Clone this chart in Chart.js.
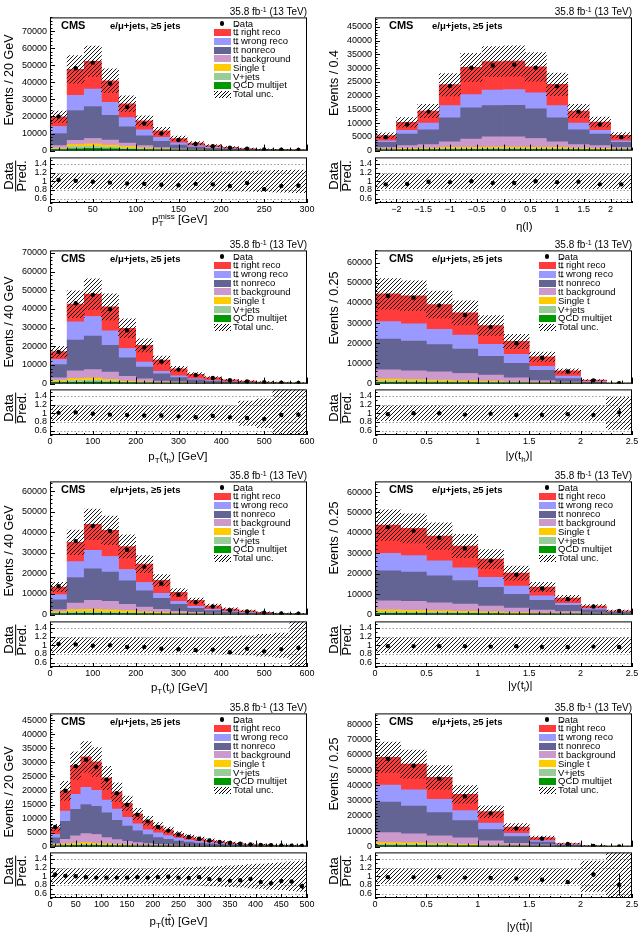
<!DOCTYPE html>
<html>
<head>
<meta charset="utf-8">
<title>CMS e/mu+jets control distributions</title>
<script src="https://cdn.jsdelivr.net/npm/chart.js@4.4.1/dist/chart.umd.min.js"></script>
<style>
  body { margin: 0; background: #fff; }
  #fig { position: relative; width: 642px; height: 936px; overflow: hidden;
         font-family: "Liberation Sans", Arial, Helvetica, sans-serif; color: #000; }
  #fig canvas { position: absolute; }
  .t { position: absolute; white-space: nowrap; line-height: 1; }
  .t sup { font-size: 70%; vertical-align: 0.5em; line-height: 0; }
  .t sub { font-size: 70%; vertical-align: -0.35em; line-height: 0; }
  .ob { text-decoration: overline; }
  .box { position: absolute; width: 16.5px; height: 7px; }
  .dot { position: absolute; width: 4.4px; height: 4.4px; border-radius: 50%; background: #000; }
  .unc { background: repeating-linear-gradient(135deg, #000 0 0.8px, transparent 0.8px 2.6px); }
  .frac { line-height: 0.95; }
  .frac div { text-align: center; }
  .frac div:first-child { border-bottom: 1px solid #000; }
</style>
</head>
<body>
<div id="fig"></div>
<script>
// ---- values (events per bin) ----

// missing pT, 20 GeV bins 0-300
const metXTicks = [0, 50, 100, 150, 200, 250, 300];
const metYTicks = [0, 10000, 20000, 30000, 40000, 50000, 60000, 70000];
const metQcd     = [500, 1100, 1300, 1100, 800, 500, 330, 210, 140, 90, 60, 40, 26, 18, 12];
const metVjets   = [500, 1200, 1200, 1000, 700, 500, 320, 210, 130, 90, 60, 40, 26, 18, 12];
const metSingleT = [500, 1200, 1400, 1200, 1000, 600, 350, 230, 150, 100, 60, 40, 28, 19, 13];
const metBkg     = [1400, 2500, 3200, 2900, 1900, 1300, 700, 450, 280, 180, 120, 80, 50, 35, 23];
const metNonreco = [7100, 17500, 18700, 14400, 9500, 5800, 3700, 2200, 1400, 890, 570, 370, 230, 150, 100];
const metWrong   = [4100, 8900, 10200, 7700, 5400, 3400, 2300, 1300, 800, 500, 330, 210, 130, 90, 60];
const metRight   = [5700, 15200, 16300, 12600, 8100, 5300, 3900, 2500, 1500, 1050, 700, 470, 310, 220, 160];
const metData    = [20000, 48200, 51500, 39300, 25600, 15800, 10000, 6200, 3900, 2600, 1650, 1150, 650, 480, 340];
const metRatio   = [1.03, 1.01, 0.99, 0.97, 0.95, 0.94, 0.92, 0.91, 0.94, 0.93, 0.89, 0.96, 0.82, 0.89, 0.9];
const metUnc     = [0.17, 0.17, 0.17, 0.17, 0.17, 0.17, 0.18, 0.19, 0.2, 0.21, 0.22, 0.23, 0.24, 0.25, 0.26];
const metErr     = [0.01, 0.005, 0.005, 0.005, 0.006, 0.008, 0.01, 0.012, 0.015, 0.018, 0.022, 0.027, 0.033, 0.04, 0.05];

// lepton eta, 0.4 bins -2.4..2.4
const etaXTicks = [-2, -1.5, -1, -0.5, 0, 0.5, 1, 1.5, 2];
const etaYTicks = [0, 5000, 10000, 15000, 20000, 25000, 30000, 35000, 40000, 45000];
const etaQcd     = [150, 220, 280, 320, 330, 350, 350, 330, 320, 280, 220, 150];
const etaVjets   = [150, 230, 270, 330, 320, 350, 350, 320, 330, 270, 230, 150];
const etaSingleT = [250, 350, 400, 500, 550, 600, 600, 550, 500, 400, 350, 250];
const etaBkg     = [650, 1000, 1250, 2050, 3000, 3700, 3700, 3200, 2050, 1250, 1000, 650];
const etaNonreco = [1800, 4200, 5400, 8700, 11400, 11400, 11500, 10800, 8700, 5400, 4200, 1800];
const etaWrong   = [600, 1400, 2400, 4500, 4800, 5600, 5700, 5800, 4500, 2400, 1400, 600];
const etaRight   = [1900, 2900, 4400, 7600, 9900, 10400, 10400, 9500, 7700, 4400, 3000, 2000];
const etaData    = [4900, 9500, 14200, 23500, 30200, 31000, 31300, 30200, 23400, 14200, 9500, 4900];
const etaRatio   = [0.93, 0.94, 0.99, 0.98, 1.0, 0.96, 0.96, 1.0, 0.98, 0.99, 0.93, 0.93];
const etaUnc     = [0.17, 0.17, 0.17, 0.17, 0.17, 0.17, 0.17, 0.17, 0.17, 0.17, 0.17, 0.17];
const etaErr     = [0.006, 0.006, 0.006, 0.006, 0.006, 0.006, 0.006, 0.006, 0.006, 0.006, 0.006, 0.006];

// pT(t_h), 40 GeV bins 0-600
const pt600XTicks = [0, 100, 200, 300, 400, 500, 600];
const thptYTicks = [0, 10000, 20000, 30000, 40000, 50000, 60000, 70000];
const thptQcd     = [540, 720, 800, 620, 400, 270, 160, 100, 60, 40, 25, 16, 10, 6, 4];
const thptVjets   = [560, 880, 900, 680, 400, 280, 170, 110, 70, 40, 25, 17, 10, 7, 5];
const thptSingleT = [700, 1100, 1300, 900, 500, 350, 220, 140, 80, 50, 30, 22, 13, 8, 5];
const thptBkg     = [1250, 4100, 4500, 3900, 2600, 1600, 850, 550, 330, 210, 130, 85, 52, 34, 21];
const thptNonreco = [7150, 16500, 18000, 14400, 9900, 6300, 3800, 2300, 1460, 910, 570, 360, 225, 140, 95];
const thptWrong   = [2700, 9700, 10400, 7700, 5000, 2700, 1400, 900, 500, 350, 220, 150, 90, 55, 35];
const thptRight   = [4200, 9500, 12000, 12900, 10800, 9000, 6000, 3800, 2500, 1600, 1000, 650, 400, 250, 165];
const thptData    = [17000, 43000, 47500, 39800, 28500, 19300, 11800, 7500, 4600, 3000, 1800, 1150, 700, 480, 320];
const thptRatio   = [1.01, 1.02, 0.99, 0.97, 0.96, 0.95, 0.95, 0.93, 0.91, 0.94, 0.91, 0.89, 0.87, 0.96, 0.97];
const thptUnc     = [0.17, 0.17, 0.17, 0.17, 0.17, 0.17, 0.17, 0.17, 0.17, 0.17, 0.17, 0.28, 0.33, 0.6, 0.6];
const thptErr     = [0.01, 0.005, 0.005, 0.005, 0.006, 0.007, 0.009, 0.011, 0.014, 0.018, 0.022, 0.028, 0.036, 0.045, 0.055];

// |y(t_h)|, 0.25 bins 0-2.5
const absyXTicks = [0, 0.5, 1, 1.5, 2, 2.5];
const thyYTicks = [0, 10000, 20000, 30000, 40000, 50000, 60000];
const thyQcd     = [500, 480, 440, 380, 300, 200, 120, 75, 25, 3];
const thyVjets   = [700, 620, 560, 470, 400, 250, 160, 95, 35, 4];
const thySingleT = [1000, 900, 800, 650, 500, 350, 220, 130, 40, 5];
const thyBkg     = [4600, 4300, 4000, 3500, 3000, 2000, 1000, 500, 150, 18];
const thyNonreco = [15300, 14800, 13500, 12100, 9300, 7300, 5100, 1700, 350, 40];
const thyWrong   = [8600, 8500, 7600, 7000, 5900, 4400, 2000, 1200, 400, 40];
const thyRight   = [13800, 13900, 12300, 11000, 9400, 6400, 4700, 2600, 700, 70];
const thyData    = [43500, 42600, 38700, 34000, 28000, 20000, 12800, 6000, 1600, 150];
const thyRatio   = [0.98, 1.0, 1.0, 0.97, 0.99, 0.96, 0.96, 0.98, 0.96, 1.02];
const thyUnc     = [0.17, 0.17, 0.17, 0.17, 0.17, 0.17, 0.17, 0.17, 0.17, 0.37];
const thyErr     = [0.005, 0.005, 0.005, 0.005, 0.005, 0.006, 0.008, 0.012, 0.025, 0.1];

// pT(t_l), 40 GeV bins 0-600
const tlptYTicks = [0, 10000, 20000, 30000, 40000, 50000, 60000];
const tlptQcd     = [320, 600, 650, 560, 450, 340, 250, 160, 100, 65, 40, 27, 16, 9, 6];
const tlptVjets   = [480, 700, 750, 640, 550, 410, 300, 200, 130, 85, 50, 33, 20, 11, 7];
const tlptSingleT = [650, 1100, 1200, 1100, 900, 650, 550, 340, 220, 140, 90, 60, 34, 20, 13];
const tlptBkg     = [950, 3200, 4300, 4100, 3100, 2300, 1500, 900, 650, 410, 250, 160, 100, 55, 34];
const tlptNonreco = [4800, 12400, 15300, 14200, 11400, 7900, 5300, 3400, 2000, 1200, 770, 500, 300, 165, 110];
const tlptWrong   = [2500, 7700, 9000, 7600, 5500, 4000, 2400, 1400, 900, 600, 350, 220, 130, 70, 50];
const tlptRight   = [3700, 9400, 12600, 12700, 11200, 8900, 6300, 4400, 2900, 1800, 1150, 800, 500, 270, 180];
const tlptData    = [13800, 35700, 43000, 40600, 31500, 23200, 15100, 9700, 6000, 3900, 2100, 1500, 900, 550, 380];
const tlptRatio   = [1.03, 1.02, 0.99, 1.0, 0.96, 0.96, 0.92, 0.91, 0.89, 0.9, 0.84, 0.92, 0.86, 0.91, 0.94];
const tlptUnc     = [0.17, 0.17, 0.17, 0.17, 0.17, 0.17, 0.17, 0.17, 0.17, 0.18, 0.2, 0.22, 0.25, 0.28, 0.6];
const tlptErr     = [0.01, 0.005, 0.005, 0.005, 0.006, 0.007, 0.009, 0.011, 0.014, 0.018, 0.022, 0.028, 0.036, 0.045, 0.055];

// |y(t_l)|, 0.25 bins 0-2.5
const tlyYTicks = [0, 10000, 20000, 30000, 40000, 50000, 60000];
const tlyQcd     = [650, 600, 550, 450, 370, 280, 200, 140, 80, 40];
const tlyVjets   = [650, 600, 550, 450, 380, 270, 200, 140, 80, 45];
const tlySingleT = [1000, 900, 800, 700, 550, 400, 300, 220, 120, 65];
const tlyBkg     = [4500, 4400, 3900, 3600, 2900, 2250, 1500, 1000, 520, 300];
const tlyNonreco = [14600, 14300, 13200, 11500, 9100, 6700, 4800, 3000, 1500, 650];
const tlyWrong   = [8600, 8100, 7300, 6200, 5000, 4000, 2200, 1000, 600, 300];
const tlyRight   = [13800, 13300, 12100, 10700, 8900, 6400, 4300, 2600, 1300, 500];
const tlyData    = [42800, 41000, 37600, 32400, 26400, 19500, 12800, 7600, 4000, 1800];
const tlyRatio   = [0.98, 0.98, 0.98, 0.98, 0.97, 0.98, 0.96, 0.96, 0.97, 0.96];
const tlyUnc     = [0.17, 0.17, 0.17, 0.17, 0.17, 0.17, 0.17, 0.17, 0.17, 0.17];
const tlyErr     = [0.005, 0.005, 0.005, 0.005, 0.005, 0.005, 0.006, 0.008, 0.01, 0.02];

// pT(ttbar), 20 GeV bins 0-500
const pt500XTicks = [0, 50, 100, 150, 200, 250, 300, 350, 400, 450, 500];
const ttptYTicks = [0, 5000, 10000, 15000, 20000, 25000, 30000, 35000, 40000, 45000];
const ttptQcd     = [120, 250, 330, 380, 330, 260, 210, 160, 120, 95, 75, 60, 48, 38, 30, 24, 19, 15, 12, 9, 7, 6, 5, 4, 3];
const ttptVjets   = [230, 250, 320, 370, 320, 240, 190, 160, 120, 95, 75, 60, 47, 37, 30, 24, 19, 15, 11, 9, 8, 6, 5, 4, 3];
const ttptSingleT = [250, 450, 550, 650, 550, 450, 350, 280, 210, 160, 130, 110, 85, 65, 55, 42, 32, 27, 21, 16, 13, 11, 9, 7, 6];
const ttptBkg     = [470, 1650, 2600, 3200, 3100, 2250, 1750, 1300, 950, 750, 570, 470, 360, 280, 225, 180, 140, 113, 86, 66, 57, 47, 37, 30, 25];
const ttptNonreco = [2030, 6400, 9500, 10400, 10100, 8800, 6900, 5400, 4200, 3200, 2350, 1900, 1460, 1180, 940, 730, 590, 470, 370, 280, 225, 190, 154, 125, 103];
const ttptWrong   = [1200, 3700, 5300, 6100, 5700, 4600, 4000, 3100, 2500, 1700, 1700, 1300, 1000, 750, 620, 480, 370, 290, 220, 180, 150, 120, 100, 80, 60];
const ttptRight   = [2450, 7200, 10300, 10900, 10100, 7900, 6000, 5000, 3600, 3200, 2400, 2000, 1500, 1200, 950, 770, 610, 490, 380, 290, 240, 200, 160, 130, 110];
const ttptData    = [7000, 19900, 28700, 31000, 28400, 23900, 19000, 14900, 11400, 9000, 7000, 5700, 4300, 3400, 2800, 2150, 1680, 1300, 1000, 800, 620, 490, 420, 340, 250];
const ttptRatio   = [1.04, 1.01, 1.0, 0.98, 0.97, 0.97, 0.97, 0.97, 0.98, 0.97, 0.98, 0.99, 0.97, 0.96, 0.98, 0.94, 0.92, 0.9, 0.91, 0.94, 0.87, 0.84, 0.89, 0.88, 0.77];
const ttptUnc     = [0.17, 0.17, 0.17, 0.17, 0.17, 0.17, 0.17, 0.17, 0.17, 0.17, 0.17, 0.18, 0.19, 0.2, 0.21, 0.22, 0.23, 0.24, 0.25, 0.27, 0.28, 0.3, 0.31, 0.33, 0.35];
const ttptErr     = [0.012, 0.007, 0.006, 0.006, 0.006, 0.006, 0.007, 0.008, 0.009, 0.01, 0.012, 0.013, 0.015, 0.017, 0.019, 0.021, 0.024, 0.027, 0.03, 0.034, 0.038, 0.043, 0.047, 0.05, 0.06];

// |y(ttbar)|, 0.25 bins 0-2.5
const ttyYTicks = [0, 10000, 20000, 30000, 40000, 50000, 60000, 70000, 80000];
const ttyQcd     = [650, 600, 500, 380, 230, 120, 65, 25, 7, 2];
const ttyVjets   = [850, 800, 650, 470, 290, 150, 85, 30, 8, 2];
const ttySingleT = [1100, 1000, 850, 650, 380, 180, 100, 35, 10, 2];
const ttyBkg     = [6500, 5900, 5000, 4200, 2800, 1750, 850, 310, 65, 14];
const ttyNonreco = [20000, 18200, 15200, 11300, 7400, 4300, 1900, 500, 110, 25];
const ttyWrong   = [11100, 10500, 8700, 6500, 4300, 2200, 900, 400, 100, 20];
const ttyRight   = [18100, 16900, 14300, 10600, 7400, 4100, 2000, 700, 150, 35];
const ttyData    = [57400, 52800, 44400, 32800, 21700, 11900, 5200, 1700, 450, 80];
const ttyRatio   = [0.98, 0.98, 0.98, 0.97, 0.96, 0.95, 0.92, 0.87, 1.04, 0.8];
const ttyUnc     = [0.17, 0.17, 0.17, 0.17, 0.17, 0.17, 0.17, 0.17, 0.35, 0.6];
const ttyErr     = [0.004, 0.004, 0.004, 0.005, 0.006, 0.008, 0.012, 0.02, 0.05, 0.25];

const ratioTicks = [0.6, 0.8, 1, 1.2, 1.4];
const ratioGrid = [0.6, 0.8, 1.2, 1.4];

// stack order, bottom to top
const procNames = ['QCD multijet', 'V+jets', 'Single t', 'tt background', 'tt nonreco', 'tt wrong reco', 'tt right reco'];
const procColors = ['#009900', '#99cc99', '#ffcc00', '#cc99cc', '#636394', '#9999ff', '#ff3b3b'];

// ---- layout ----
const fig = document.getElementById('fig');
const plotW = 257, mainH = 134, ratioH = 46;
const colLeft = [50, 375];
const mainTop = [17, 250, 481, 713];
const ratioTop = [157, 389, 621, 852];

Chart.defaults.font.family = '"Liberation Sans", Arial, Helvetica, sans-serif';
Chart.defaults.font.size = 9;
Chart.defaults.color = '#000';

const ttbar = 't<span class="ob">t</span>';

const panels = [
  { col: 0, row: 0, xMin: 0, xMax: 300, binW: 20, xTicks: metXTicks, xMinor: 10,
    yMax: 78000, yTicks: metYTicks, yMinor: 2000,
    comps: [metQcd, metVjets, metSingleT, metBkg, metNonreco, metWrong, metRight],
    data: metData, ratio: metRatio, unc: metUnc, err: metErr,
    yTitle: 'Events / 20 GeV', yTitleY: 79.5,
    xTitle: 'p<sub>T</sub><sup style="margin-left:-5px">miss</sup> [GeV]', xTitleY: 220, legend: true },
  { col: 1, row: 0, xMin: -2.4, xMax: 2.4, binW: 0.4, xTicks: etaXTicks, xMinor: 0.1,
    yMax: 48500, yTicks: etaYTicks, yMinor: 1000,
    comps: [etaQcd, etaVjets, etaSingleT, etaBkg, etaNonreco, etaWrong, etaRight],
    data: etaData, ratio: etaRatio, unc: etaUnc, err: etaErr,
    yTitle: 'Events / 0.4', yTitleY: 82.5, xTitle: 'η(l)', xTitleY: 226.7, legend: false },
  { col: 0, row: 1, xMin: 0, xMax: 600, binW: 40, xTicks: pt600XTicks, xMinor: 20,
    yMax: 71300, yTicks: thptYTicks, yMinor: 2000,
    comps: [thptQcd, thptVjets, thptSingleT, thptBkg, thptNonreco, thptWrong, thptRight],
    data: thptData, ratio: thptRatio, unc: thptUnc, err: thptErr,
    yTitle: 'Events / 40 GeV', yTitleY: 321.5,
    xTitle: 'p<sub>T</sub>(t<sub>h</sub>) [GeV]', xTitleY: 456.7, legend: true },
  { col: 1, row: 1, xMin: 0, xMax: 2.5, binW: 0.25, xTicks: absyXTicks, xMinor: 0.1,
    yMax: 66000, yTicks: thyYTicks, yMinor: 2000,
    comps: [thyQcd, thyVjets, thySingleT, thyBkg, thyNonreco, thyWrong, thyRight],
    data: thyData, ratio: thyRatio, unc: thyUnc, err: thyErr,
    yTitle: 'Events / 0.25', yTitleY: 307.5,
    xTitle: '|y(t<sub>h</sub>)|', xTitleY: 455.7, legend: true },
  { col: 0, row: 2, xMin: 0, xMax: 600, binW: 40, xTicks: pt600XTicks, xMinor: 20,
    yMax: 64700, yTicks: tlptYTicks, yMinor: 2000,
    comps: [tlptQcd, tlptVjets, tlptSingleT, tlptBkg, tlptNonreco, tlptWrong, tlptRight],
    data: tlptData, ratio: tlptRatio, unc: tlptUnc, err: tlptErr,
    yTitle: 'Events / 40 GeV', yTitleY: 551,
    xTitle: 'p<sub>T</sub>(t<sub>l</sub>) [GeV]', xTitleY: 687.7, legend: true },
  { col: 1, row: 2, xMin: 0, xMax: 2.5, binW: 0.25, xTicks: absyXTicks, xMinor: 0.1,
    yMax: 65200, yTicks: tlyYTicks, yMinor: 2000,
    comps: [tlyQcd, tlyVjets, tlySingleT, tlyBkg, tlyNonreco, tlyWrong, tlyRight],
    data: tlyData, ratio: tlyRatio, unc: tlyUnc, err: tlyErr,
    yTitle: 'Events / 0.25', yTitleY: 538,
    xTitle: '|y(t<sub>l</sub>)|', xTitleY: 685.7, legend: true },
  { col: 0, row: 3, xMin: 0, xMax: 500, binW: 20, xTicks: pt500XTicks, xMinor: 10,
    yMax: 47500, yTicks: ttptYTicks, yMinor: 1000,
    comps: [ttptQcd, ttptVjets, ttptSingleT, ttptBkg, ttptNonreco, ttptWrong, ttptRight],
    data: ttptData, ratio: ttptRatio, unc: ttptUnc, err: ttptErr,
    yTitle: 'Events / 20 GeV', yTitleY: 791.5,
    xTitle: 'p<sub>T</sub>(' + ttbar + ') [GeV]', xTitleY: 921.7, legend: true },
  { col: 1, row: 3, xMin: 0, xMax: 2.5, binW: 0.25, xTicks: absyXTicks, xMinor: 0.1,
    yMax: 87000, yTicks: ttyYTicks, yMinor: 2000,
    comps: [ttyQcd, ttyVjets, ttySingleT, ttyBkg, ttyNonreco, ttyWrong, ttyRight],
    data: ttyData, ratio: ttyRatio, unc: ttyUnc, err: ttyErr,
    yTitle: 'Events / 0.25', yTitleY: 774,
    xTitle: '|y(' + ttbar + ')|', xTitleY: 926.7, legend: true }
];

// frame, inward ticks, dotted ratio grid and error bars, ROOT style
const rootFrame = {
  id: 'rootFrame',
  beforeDatasetsDraw(chart, args, o) {
    if (!o.grid) return;
    const { ctx, chartArea: a, scales: { y } } = chart;
    ctx.save();
    ctx.strokeStyle = '#808080';
    ctx.lineWidth = 0.8;
    ctx.setLineDash([1.5, 2]);
    o.grid.forEach(v => {
      const py = Math.round(y.getPixelForValue(v)) + 0.5;
      ctx.beginPath(); ctx.moveTo(a.left, py); ctx.lineTo(a.right, py); ctx.stroke();
    });
    ctx.restore();
  },
  afterDatasetsDraw(chart) {
    const { ctx, scales: { x, y } } = chart;
    chart.data.datasets.forEach(ds => {
      if (!ds.errs) return;
      ctx.save();
      ctx.strokeStyle = '#000';
      ctx.lineWidth = 1;
      ds.data.forEach((d, i) => {
        const px = Math.round(x.getPixelForValue(d.x)) + 0.5;
        ctx.beginPath();
        ctx.moveTo(px, y.getPixelForValue(d.y - ds.errs[i]));
        ctx.lineTo(px, y.getPixelForValue(d.y + ds.errs[i]));
        ctx.stroke();
      });
      ctx.restore();
    });
  },
  afterDraw(chart, args, o) {
    const { ctx, chartArea: a, scales: { x, y } } = chart;
    ctx.save();
    ctx.strokeStyle = '#000';
    ctx.lineWidth = 1;
    ctx.strokeRect(a.left + 0.5, a.top + 0.5, a.right - a.left - 1, a.bottom - a.top - 1);
    ctx.beginPath();
    const yt = (v, len) => {
      if (v < y.min - 1e-9 || v > y.max + 1e-9) return;
      const py = Math.round(y.getPixelForValue(v)) + 0.5;
      ctx.moveTo(a.left, py); ctx.lineTo(a.left + len, py);
    };
    const xt = (v, len) => {
      if (v < x.min - 1e-9 || v > x.max + 1e-9) return;
      const px = Math.round(x.getPixelForValue(v)) + 0.5;
      ctx.moveTo(px, a.bottom); ctx.lineTo(px, a.bottom - len);
    };
    for (let k = Math.ceil(y.min / o.yMinor - 1e-6); k * o.yMinor <= y.max + 1e-9; k++) yt(k * o.yMinor, 2.5);
    o.yTicks.forEach(v => yt(v, 5));
    for (let k = Math.ceil(x.min / o.xMinor - 1e-6); k * o.xMinor <= x.max + 1e-9; k++) xt(k * o.xMinor, o.short ? 2 : 3);
    o.xTicks.forEach(v => xt(v, o.short ? 4 : 6));
    ctx.stroke();
    ctx.restore();
  }
};

function makeCanvas(left, top, w, h) {
  const cv = document.createElement('canvas');
  cv.width = w;
  cv.height = h;
  cv.style.left = left + 'px';
  cv.style.top = top + 'px';
  fig.appendChild(cv);
  return cv;
}

function hatch(cv) {
  const tile = document.createElement('canvas');
  tile.width = tile.height = 4;
  const g = tile.getContext('2d');
  g.strokeStyle = '#000';
  g.lineWidth = 0.9;
  g.beginPath();
  g.moveTo(0, 4); g.lineTo(4, 0);
  g.moveTo(-1, 1); g.lineTo(1, -1);
  g.moveTo(3, 5); g.lineTo(5, 3);
  g.stroke();
  return cv.getContext('2d').createPattern(tile, 'repeat');
}

function txt(html, left, top, style) {
  const d = document.createElement('div');
  d.className = 't';
  d.innerHTML = html;
  d.style.left = left + 'px';
  d.style.top = top + 'px';
  Object.assign(d.style, style || {});
  fig.appendChild(d);
  return d;
}

const tickLabel = v => (v < 0 ? '\u2212' + (-v) : String(v));

function yScale(max, min, ticks, extra) {
  return Object.assign({
    min: min, max: max,
    afterBuildTicks: s => { s.ticks = ticks.map(v => ({ value: v })); },
    afterFit: s => { s.width = 50; },
    grid: { display: false, drawTicks: false },
    border: { display: false },
    ticks: { padding: 3, autoSkip: false, callback: v => String(v) }
  }, extra || {});
}

const common = {
  responsive: false, animation: false, devicePixelRatio: 1, events: []
};

function drawPanel(p) {
  const x0 = colLeft[p.col];
  const centers = p.data.map((_, i) => p.xMin + (i + 0.5) * p.binW);
  const xy = arr => arr.map((v, i) => ({ x: centers[i], y: v }));
  const total = centers.map((_, i) => p.comps.reduce((s, a) => s + a[i], 0));
  const bar = { type: 'bar', grouped: false, barPercentage: 1, categoryPercentage: 1, borderWidth: 0 };
  const xTicksOnly = s => { s.ticks = p.xTicks.map(v => ({ value: v })); };

  // main stacked histogram
  const cvMain = makeCanvas(x0 - 50, mainTop[p.row] - 8, plotW + 62, mainH + 16);
  const mainSets = p.comps.map((arr, k) => Object.assign({}, bar, {
    label: procNames[k], data: xy(arr), backgroundColor: procColors[k], stack: 'mc', order: 2
  }));
  mainSets.push(Object.assign({}, bar, {
    label: 'Total unc.', stack: 'unc', order: 1, backgroundColor: hatch(cvMain),
    data: total.map((t, i) => ({ x: centers[i], y: [t * (1 - p.unc[i]), t * (1 + p.unc[i])] }))
  }));
  mainSets.push({
    type: 'scatter', label: 'Data', data: xy(p.data), order: 0,
    pointRadius: 2.2, pointBackgroundColor: '#000', pointBorderWidth: 0
  });
  new Chart(cvMain, {
    type: 'bar',
    data: { datasets: mainSets },
    options: Object.assign({}, common, {
      layout: { padding: { left: 0, top: 8, right: 12, bottom: 8 } },
      plugins: {
        legend: { display: false }, tooltip: { enabled: false },
        rootFrame: { xTicks: p.xTicks, xMinor: p.xMinor, yTicks: p.yTicks, yMinor: p.yMinor }
      },
      scales: {
        x: { type: 'linear', min: p.xMin, max: p.xMax, offset: false, display: false, afterBuildTicks: xTicksOnly },
        y: yScale(p.yMax, 0, p.yTicks, { stacked: true })
      }
    }),
    plugins: [rootFrame]
  });

  // data / prediction
  const cvRatio = makeCanvas(x0 - 50, ratioTop[p.row] - 8, plotW + 62, ratioH + 24);
  new Chart(cvRatio, {
    type: 'bar',
    data: {
      datasets: [
        {
          type: 'scatter', label: 'Data/Pred.', data: xy(p.ratio), errs: p.err, order: 0,
          pointRadius: 2.2, pointBackgroundColor: '#000', pointBorderWidth: 0
        },
        Object.assign({}, bar, {
          label: 'Total unc.', order: 1, backgroundColor: hatch(cvRatio),
          data: p.unc.map((u, i) => ({ x: centers[i], y: [1 - u, 1 + u] }))
        })
      ]
    },
    options: Object.assign({}, common, {
      layout: { padding: { left: 0, top: 8, right: 12, bottom: 0 } },
      plugins: {
        legend: { display: false }, tooltip: { enabled: false },
        rootFrame: { xTicks: p.xTicks, xMinor: p.xMinor, yTicks: ratioTicks, yMinor: 0.1, grid: ratioGrid, short: true }
      },
      scales: {
        x: {
          type: 'linear', min: p.xMin, max: p.xMax, offset: false,
          afterBuildTicks: xTicksOnly,
          afterFit: s => { s.height = 16; },
          grid: { display: false, drawTicks: false },
          border: { display: false },
          ticks: { padding: 1, maxRotation: 0, autoSkip: false, callback: tickLabel }
        },
        y: yScale(1.55, 0.5, ratioTicks)
      }
    }),
    plugins: [rootFrame]
  });

  // texts
  const top = mainTop[p.row];
  txt('35.8 fb<sup>-1</sup> (13 TeV)', x0 + plotW, top - 5.5, { fontSize: '10px', transform: 'translate(-100%,-50%)' });
  txt('CMS', x0 + (p.col ? 14 : 11), top + 8, { fontSize: '11px', fontWeight: 'bold', transform: 'translateY(-50%)' });
  txt('e/μ+jets, ≥5 jets', x0 + (p.col ? 57 : 60), top + 8.5, { fontSize: '9.5px', fontWeight: 'bold', transform: 'translateY(-50%)' });
  txt(p.yTitle, p.col ? 334 : 9, p.yTitleY, { fontSize: '12.5px', transform: 'translate(-50%,-50%) rotate(-90deg)' });
  txt('<div class="frac"><div>Data</div><div>Pred.</div></div>', p.col ? 341 : 16.3, ratioTop[p.row] + 19,
      { fontSize: '13px', transform: 'translate(-50%,-50%) rotate(-90deg)' });
  txt(p.xTitle, x0 + 157.5, p.xTitleY, { fontSize: '11.5px', transform: 'translate(-100%,-50%)' });

  if (p.legend) drawLegend(x0, top);
}

function drawLegend(x0, top) {
  const rows = [
    { label: 'Data', kind: 'dot' },
    { label: ttbar + ' right reco', color: procColors[6] },
    { label: ttbar + ' wrong reco', color: procColors[5] },
    { label: ttbar + ' nonreco', color: procColors[4] },
    { label: 'tt background', color: procColors[3] },
    { label: 'Single t', color: procColors[2] },
    { label: 'V+jets', color: procColors[1] },
    { label: 'QCD multijet', color: procColors[0] },
    { label: 'Total unc.', kind: 'unc' }
  ];
  rows.forEach((r, i) => {
    const cy = top + 6.5 + i * 8.85;
    const el = document.createElement('div');
    if (r.kind === 'dot') {
      el.className = 'dot';
      el.style.left = (x0 + 164 + 8.25 - 2.2) + 'px';
      el.style.top = (cy - 2.2) + 'px';
    } else {
      el.className = 'box' + (r.kind === 'unc' ? ' unc' : '');
      el.style.left = (x0 + 164) + 'px';
      el.style.top = (cy - 3.5) + 'px';
      if (r.color) el.style.background = r.color;
    }
    fig.appendChild(el);
    txt(r.label, x0 + 183, cy, { fontSize: '9.5px', transform: 'translateY(-50%)' });
  });
}

panels.forEach(drawPanel);
</script>
</body>
</html>
